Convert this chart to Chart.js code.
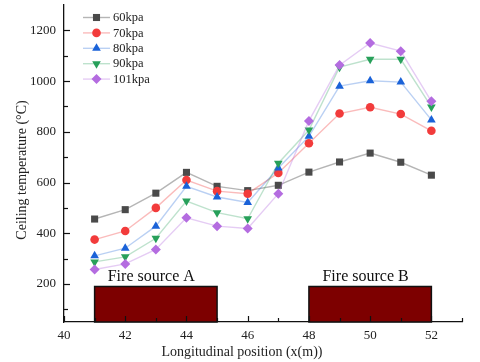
<!DOCTYPE html>
<html>
<head>
<meta charset="utf-8">
<script src="https://cdn.jsdelivr.net/npm/chart.js@4.4.1/dist/chart.umd.min.js"></script>
<style>
  html, body { margin: 0; padding: 0; background: #fff; }
  #wrap { width: 480px; height: 362px; }
</style>
</head>
<body>
<div id="wrap"><canvas id="tempChart"></canvas></div>
<script>
// ── Data ──
const positions = [41, 42, 43, 44, 45, 46, 47, 48, 49, 50, 51, 52];
const temp60  = [456, 493, 558, 640, 585, 568, 589, 641, 681, 716, 680, 629];
const temp70  = [375, 409, 500, 610, 566, 556, 638, 755, 872, 897, 870, 804];
const temp80  = [311, 341, 428, 585, 543, 521, 657, 782, 980, 1001, 996, 847];
const temp90  = [287, 307, 380, 527, 481, 457, 676, 807, 1055, 1086, 1086, 898];
const temp101 = [257, 279, 336, 461, 428, 419, 556, 843, 1063, 1150, 1118, 920];
const seriesLabels = ['60kpa', '70kpa', '80kpa', '90kpa', '101kpa'];

const xTicks = [40, 42, 44, 46, 48, 50, 52];
const xMinorTicks = [41, 43, 45, 47, 49, 51, 53];
const yTicks = [200, 400, 600, 800, 1000, 1200];
const yMinorTicks = [100, 300, 500, 700, 900, 1100];

// fire source blocks (x range in m, top in °C) and their captions
const fireLabels = ['Fire source A', 'Fire source B'];
const fireStart = [41, 48];
const fireEnd = [45, 52];
const fireTop = [190, 190];
const fireLabelX = [42.85, 49.85];
const fireLabelY = [228, 228];

const SERIF = '"Liberation Serif", "Times New Roman", serif';

// ── Series styling ──
const styles = [
  { color: '#4a4a4a', line: 'rgba(90,90,90,0.45)',   point: 'rect',     rot: 0,   r: 5 },
  { color: '#f23b3b', line: 'rgba(242,59,59,0.35)',  point: 'circle',   rot: 0,   r: 4.3 },
  { color: '#1a62d8', line: 'rgba(26,98,216,0.3)',   point: 'triangle', rot: 0,   r: 5 },
  { color: '#27a05a', line: 'rgba(39,160,90,0.3)',   point: 'triangle', rot: 180, r: 5 },
  { color: '#b46ce0', line: 'rgba(180,108,224,0.35)', point: 'rectRot', rot: 0,   r: 5 }
];
const seriesData = [temp60, temp70, temp80, temp90, temp101];

const datasets = seriesData.map((vals, i) => ({
  label: seriesLabels[i],
  data: vals.map((v, j) => ({ x: positions[j], y: v })),
  borderColor: styles[i].line,
  borderWidth: 1.4,
  backgroundColor: styles[i].color,
  pointBackgroundColor: styles[i].color,
  pointBorderColor: styles[i].color,
  pointBorderWidth: 0,
  pointStyle: styles[i].point,
  pointRotation: styles[i].rot,
  pointRadius: styles[i].r,
  pointHoverRadius: styles[i].r,
  tension: 0,
  order: seriesData.length - i
}));

// ── Extra drawing: fire blocks, inward ticks, legend, axis titles ──
const decorPlugin = {
  id: 'decor',
  beforeDatasetsDraw(chart) {
    const { ctx, scales: { x, y } } = chart;
    ctx.save();
    fireStart.forEach((s, i) => {
      const x0 = x.getPixelForValue(s);
      const x1 = x.getPixelForValue(fireEnd[i]);
      const y0 = y.getPixelForValue(fireTop[i]);
      const y1 = y.getPixelForValue(y.min);
      ctx.fillStyle = '#7d0000';
      ctx.fillRect(x0, y0, x1 - x0, y1 - y0);
      ctx.strokeStyle = '#111';
      ctx.lineWidth = 1.5;
      ctx.strokeRect(x0, y0, x1 - x0, y1 - y0);
      ctx.fillStyle = '#111';
      ctx.font = '16px ' + SERIF;
      ctx.textAlign = 'center';
      ctx.textBaseline = 'middle';
      ctx.fillText(fireLabels[i], x.getPixelForValue(fireLabelX[i]), y.getPixelForValue(fireLabelY[i]));
    });
    ctx.restore();
  },
  afterDraw(chart) {
    const { ctx, chartArea, scales: { x, y } } = chart;
    ctx.save();
    ctx.strokeStyle = '#111';
    ctx.lineWidth = 1.2;

    // inward ticks
    const tickX = (vals, len) => vals.forEach(v => {
      const px = Math.round(x.getPixelForValue(v)) + 0.5;
      ctx.beginPath();
      ctx.moveTo(px, chartArea.bottom);
      ctx.lineTo(px, chartArea.bottom - len);
      ctx.stroke();
    });
    const tickY = (vals, len) => vals.forEach(v => {
      const py = Math.round(y.getPixelForValue(v)) + 0.5;
      ctx.beginPath();
      ctx.moveTo(chartArea.left, py);
      ctx.lineTo(chartArea.left + len, py);
      ctx.stroke();
    });
    tickX(xTicks, 6); tickX(xMinorTicks, 4);
    tickY(yTicks, 6); tickY(yMinorTicks, 4);

    // legend
    ctx.font = '12.5px ' + SERIF;
    ctx.textAlign = 'left';
    ctx.textBaseline = 'middle';
    chart.data.datasets.forEach((ds, i) => {
      const ly = 17.5 + i * 15.4;
      ctx.strokeStyle = ds.borderColor;
      ctx.lineWidth = 1.4;
      ctx.beginPath();
      ctx.moveTo(83, ly);
      ctx.lineTo(110, ly);
      ctx.stroke();
      ctx.fillStyle = ds.pointBackgroundColor;
      ctx.strokeStyle = ds.pointBorderColor;
      Chart.helpers.drawPoint(ctx, {
        pointStyle: ds.pointStyle, rotation: ds.pointRotation,
        radius: ds.pointRadius, borderWidth: 0
      }, 96.5, ly);
      ctx.fillStyle = '#222';
      ctx.fillText(ds.label, 113, ly + 0.5);
    });

    // axis titles
    ctx.fillStyle = '#222';
    ctx.font = '14px ' + SERIF;
    ctx.textAlign = 'center';
    ctx.textBaseline = 'middle';
    ctx.fillText('Longitudinal position (x(m))', 242, 352);
    ctx.translate(22, 170);
    ctx.rotate(-Math.PI / 2);
    ctx.fillText('Ceiling temperature (\u00B0C)', 0, 0);
    ctx.restore();
  }
};

const noPad = s => { s.paddingTop = 0; s.paddingBottom = 0; s.paddingLeft = 0; s.paddingRight = 0; };

new Chart(document.getElementById('tempChart'), {
  type: 'line',
  data: { datasets },
  options: {
    responsive: true,
    maintainAspectRatio: false,
    animation: false,
    layout: { padding: { top: 2, right: 18, left: 0, bottom: 0 } },
    plugins: { legend: { display: false }, tooltip: { enabled: false } },
    scales: {
      x: {
        type: 'linear',
        min: 40,
        max: 53,
        afterBuildTicks: s => { s.ticks = xTicks.map(v => ({ value: v })); },
        afterFit: s => { s.height = 40; noPad(s); },
        grid: { display: false, drawTicks: false, tickLength: 0 },
        border: { display: true, color: '#111', width: 1.3 },
        ticks: { padding: 6, color: '#222', font: { family: SERIF, size: 13 }, callback: v => String(v) }
      },
      y: {
        min: 50,
        max: 1300,
        afterBuildTicks: s => { s.ticks = yTicks.map(v => ({ value: v })); },
        afterFit: s => { s.width = 64; noPad(s); },
        grid: { display: false, drawTicks: false, tickLength: 0 },
        border: { display: true, color: '#111', width: 1.3 },
        ticks: { padding: 8, color: '#222', font: { family: SERIF, size: 13 }, callback: v => String(v) }
      }
    }
  },
  plugins: [decorPlugin]
});
</script>
</body>
</html>
